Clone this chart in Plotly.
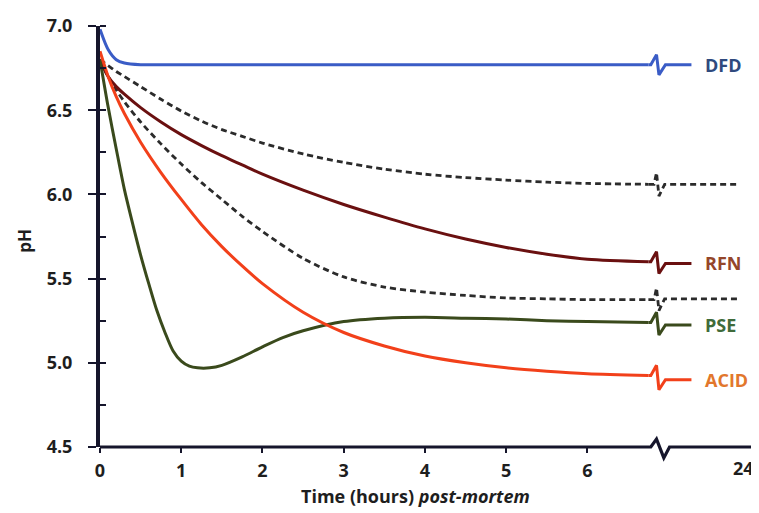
import plotly.graph_objects as go

# ---------------- data ----------------
time_h = [0, 0.1, 0.2, 0.3, 0.5, 0.75, 1, 1.25, 1.5, 1.75, 2, 2.5, 3, 3.5, 4, 4.5, 5, 5.5, 6, 6.75]

dfd = [6.98, 6.86, 6.80, 6.78, 6.77, 6.77, 6.77, 6.77, 6.77, 6.77, 6.77, 6.77, 6.77, 6.77, 6.77, 6.77, 6.77, 6.77, 6.77, 6.77]
upper_dashed = [6.80, 6.765, 6.73, 6.70, 6.64, 6.565, 6.495, 6.435, 6.385, 6.345, 6.305, 6.24, 6.19, 6.15, 6.12, 6.10, 6.085, 6.073, 6.065, 6.06]
rfn = [6.80, 6.70, 6.64, 6.595, 6.515, 6.43, 6.355, 6.29, 6.23, 6.175, 6.12, 6.025, 5.94, 5.865, 5.795, 5.735, 5.685, 5.645, 5.615, 5.60]
lower_dashed = [6.80, 6.70, 6.62, 6.55, 6.43, 6.30, 6.18, 6.07, 5.97, 5.87, 5.78, 5.62, 5.51, 5.45, 5.42, 5.40, 5.385, 5.38, 5.375, 5.375]
acid = [6.85, 6.70, 6.58, 6.48, 6.31, 6.13, 5.97, 5.82, 5.69, 5.575, 5.47, 5.30, 5.18, 5.10, 5.04, 5.00, 4.97, 4.95, 4.935, 4.925]

pse_time_h = [0, 0.1, 0.2, 0.3, 0.4, 0.5, 0.6, 0.7, 0.8, 0.9, 1.0, 1.1, 1.2, 1.35, 1.5, 1.75, 2, 2.25, 2.5, 3, 3.5, 4, 4.5, 5, 5.5, 6, 6.75]
pse = [6.80, 6.52, 6.27, 6.03, 5.83, 5.64, 5.47, 5.31, 5.18, 5.07, 5.01, 4.98, 4.97, 4.97, 4.985, 5.035, 5.095, 5.15, 5.19, 5.245, 5.265, 5.27, 5.265, 5.26, 5.25, 5.245, 5.24]

series_names = ["Upper range", "Lower range", "DFD", "RFN", "PSE", "ACID"]
ph_at_24h = [6.06, 5.38, 6.77, 5.59, 5.225, 4.90]

x_tick_labels = ["0", "1", "2", "3", "4", "5", "6", "24"]
y_tick_vals = [4.5, 5.0, 5.5, 6.0, 6.5, 7.0]
y_tick_labels = ["4.5", "5.0", "5.5", "6.0", "6.5", "7.0"]

# ---------------- styling / layout constants ----------------
POS_24 = 8.02          # display position of the "24 h" tick after the axis break
BREAK = 6.85           # display position of the axis break
TAIL_SOLID = 7.28
TAIL_DASHED = 7.87
X_MAX = 8.05

series_times = [time_h, time_h, time_h, time_h, pse_time_h, time_h]
series_values = [upper_dashed, lower_dashed, dfd, rfn, pse, acid]
line_colors = ["#2b2b2b", "#2b2b2b", "#3a5cc6", "#6a1010", "#3a4a1c", "#f2401a"]
label_colors = [None, None, "#2f4a7e", "#94462a", "#3f6b3a", "#e2772c"]
dashed = [True, True, False, False, False, False]
AXIS_COLOR = "#16162c"
TEXT_COLOR = "#1e1e1e"
FONT = "Open Sans"

fig = go.Figure()

for name, ts, vals, v24, col, dsh in zip(series_names, series_times, series_values,
                                         ph_at_24h, line_colors, dashed):
    style = dict(color=col, width=2.8 if dsh else 3)
    if dsh:
        style["dash"] = "6px,4px"
    # main curve
    fig.add_trace(go.Scatter(x=ts, y=vals, mode="lines", name=name,
                             line=dict(shape="spline", smoothing=0.8, **style),
                             hoverinfo="skip", showlegend=False))
    # break glyph and 24 h tail
    last = vals[-1]
    tail_end = TAIL_DASHED if dsh else TAIL_SOLID
    if dsh:
        bx = [ts[-1], BREAK - 0.03, BREAK, BREAK + 0.03, BREAK + 0.1, tail_end]
        by = [last, last, last + 0.07, v24 - 0.07, v24, v24]
    else:
        bx = [ts[-1], BREAK - 0.07, BREAK, BREAK + 0.03, BREAK + 0.11, tail_end]
        by = [last, last, last + 0.06, v24 - 0.06, v24, v24]
    fig.add_trace(go.Scatter(x=bx, y=by, mode="lines", line=dict(shape="linear", **style),
                             hoverinfo="skip", showlegend=False))

# series labels at the right
for name, v24, lc in zip(series_names, ph_at_24h, label_colors):
    if lc is None:
        continue
    fig.add_annotation(x=7.42, y=v24, xref="x", yref="y", text=f"<b>{name}</b>",
                       showarrow=False, xanchor="left", yanchor="middle",
                       font=dict(family=FONT, size=18, color=lc))

# x-axis line with break (paper coordinates so it is not clipped)
px = lambda X: X / X_MAX
PLOT_H = 426.0
dy = 1 / PLOT_H
path = (f"M 0,0 L {px(BREAK - 0.07)},0 L {px(BREAK)},{8 * dy} "
        f"L {px(BREAK + 0.09)},{-11 * dy} L {px(BREAK + 0.16)},0 L {px(POS_24)},0")
fig.add_shape(type="path", path=path, xref="paper", yref="paper",
              line=dict(color=AXIS_COLOR, width=3.2), layer="above")

# the last tick label ("24") sits at the right edge; right-anchored so it stays inside
fig.add_annotation(x=POS_24, y=0, xref="x", yref="paper", text=f"<b>{x_tick_labels[-1]}</b>",
                   showarrow=False, xanchor="right", yanchor="top", xshift=4, yshift=-7,
                   font=dict(family=FONT, size=18, color=TEXT_COLOR))

PLOT_W = 654.0
fig.add_annotation(x=(415 - 100) / PLOT_W, y=-50 / PLOT_H, xref="paper", yref="paper",
                   text="<b>Time (hours) <i>post-mortem</i></b>", showarrow=False,
                   xanchor="center", yanchor="middle",
                   font=dict(family=FONT, size=18, color=TEXT_COLOR))
fig.add_annotation(x=-75 / PLOT_W, y=0.49, xref="paper", yref="paper",
                   text="<b>pH</b>", showarrow=False, textangle=-90,
                   xanchor="center", yanchor="middle",
                   font=dict(family=FONT, size=17, color=TEXT_COLOR))

# the page body adds an 8px offset, so the figure is sized/margined to compensate
fig.update_layout(
    width=751, height=505,
    margin=dict(l=92, r=5, t=13, b=66),
    paper_bgcolor="white", plot_bgcolor="white",
    showlegend=False,
    xaxis=dict(range=[0, X_MAX], showgrid=False, zeroline=False, showline=False,
               tickvals=[0, 1, 2, 3, 4, 5, 6, POS_24],
               ticktext=x_tick_labels[:-1] + [""],
               ticks="outside", ticklen=5, tickwidth=2, tickcolor=AXIS_COLOR,
               ticklabelstandoff=2,
               tickfont=dict(family=FONT, size=18, color=TEXT_COLOR, weight="bold")),
    yaxis=dict(range=[4.5, 7.0], showgrid=False, zeroline=False, showline=True,
               linecolor=AXIS_COLOR, linewidth=4,
               tickvals=y_tick_vals, ticktext=y_tick_labels,
               ticks="outside", ticklen=8, tickwidth=2, tickcolor=AXIS_COLOR,
               ticklabelstandoff=12,
               minor=dict(ticks="inside", dtick=0.25, tick0=4.5, ticklen=6,
                          tickwidth=2, tickcolor=AXIS_COLOR),
               tickfont=dict(family=FONT, size=18, color=TEXT_COLOR, weight="bold")),
)

fig.write_html("out.html")
